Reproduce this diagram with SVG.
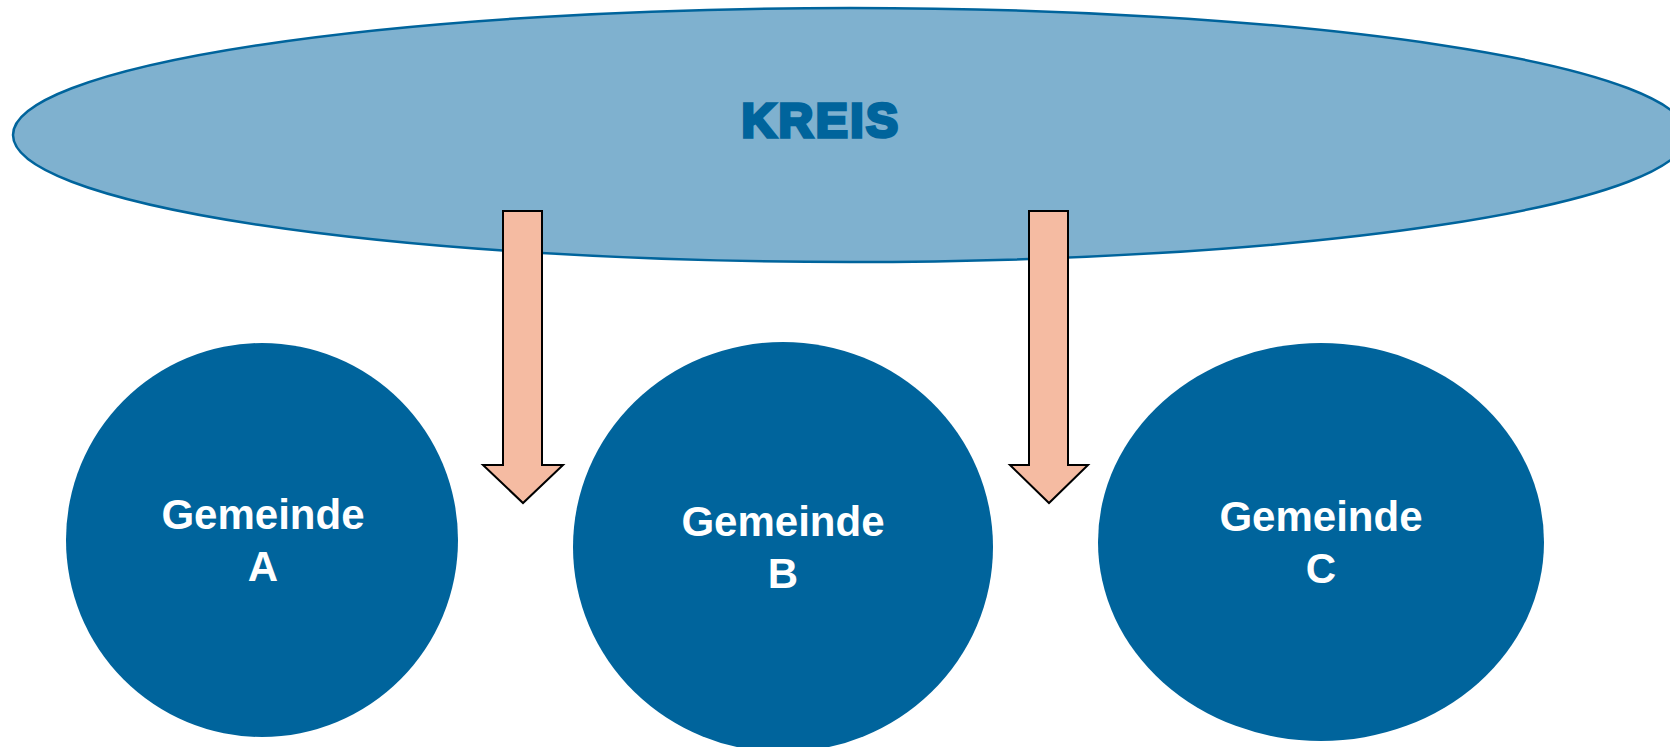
<svg xmlns="http://www.w3.org/2000/svg" width="1670" height="747" viewBox="0 0 1670 747">
  <style>
    .kreis { fill: #7fb1cf; stroke: #00649c; stroke-width: 2.5; }
    .gem { fill: #00649c; }
    .arrow { fill: #f5bba2; stroke: #000; stroke-width: 2; stroke-linejoin: miter; }
    .title { font-family: "Liberation Sans", Arial, sans-serif; font-weight: bold; font-size: 48px; fill: #00649c; text-anchor: middle; stroke: #00649c; stroke-width: 3.5; stroke-linejoin: miter; }
    .label { font-family: "Liberation Sans", Arial, sans-serif; font-weight: bold; font-size: 42px; fill: #fff; text-anchor: middle; }
  </style>
  <rect width="1670" height="747" fill="#fff"/>

  <g id="kreis">
    <ellipse class="kreis" cx="850" cy="135" rx="837" ry="127"/>
    <text class="title" x="821" y="137" letter-spacing="2.5">KREIS</text>
  </g>

  <g id="gemeinde-a">
    <ellipse class="gem" cx="262" cy="540" rx="196" ry="197"/>
    <text class="label" x="263" y="529">Gemeinde</text>
    <text class="label" x="263" y="581">A</text>
  </g>

  <g id="gemeinde-b">
    <ellipse class="gem" cx="783" cy="547" rx="210" ry="205"/>
    <text class="label" x="783" y="536">Gemeinde</text>
    <text class="label" x="783" y="588">B</text>
  </g>

  <g id="gemeinde-c">
    <ellipse class="gem" cx="1321" cy="542" rx="223" ry="199"/>
    <text class="label" x="1321" y="531">Gemeinde</text>
    <text class="label" x="1321" y="583">C</text>
  </g>

  <g id="connectors">
    <path class="arrow" d="M503 211 H542 V465 H563 L523 503 L483 465 H503 Z"/>
    <path class="arrow" d="M1029 211 H1068 V465 H1088 L1049 503 L1010 465 H1029 Z"/>
  </g>
</svg>
